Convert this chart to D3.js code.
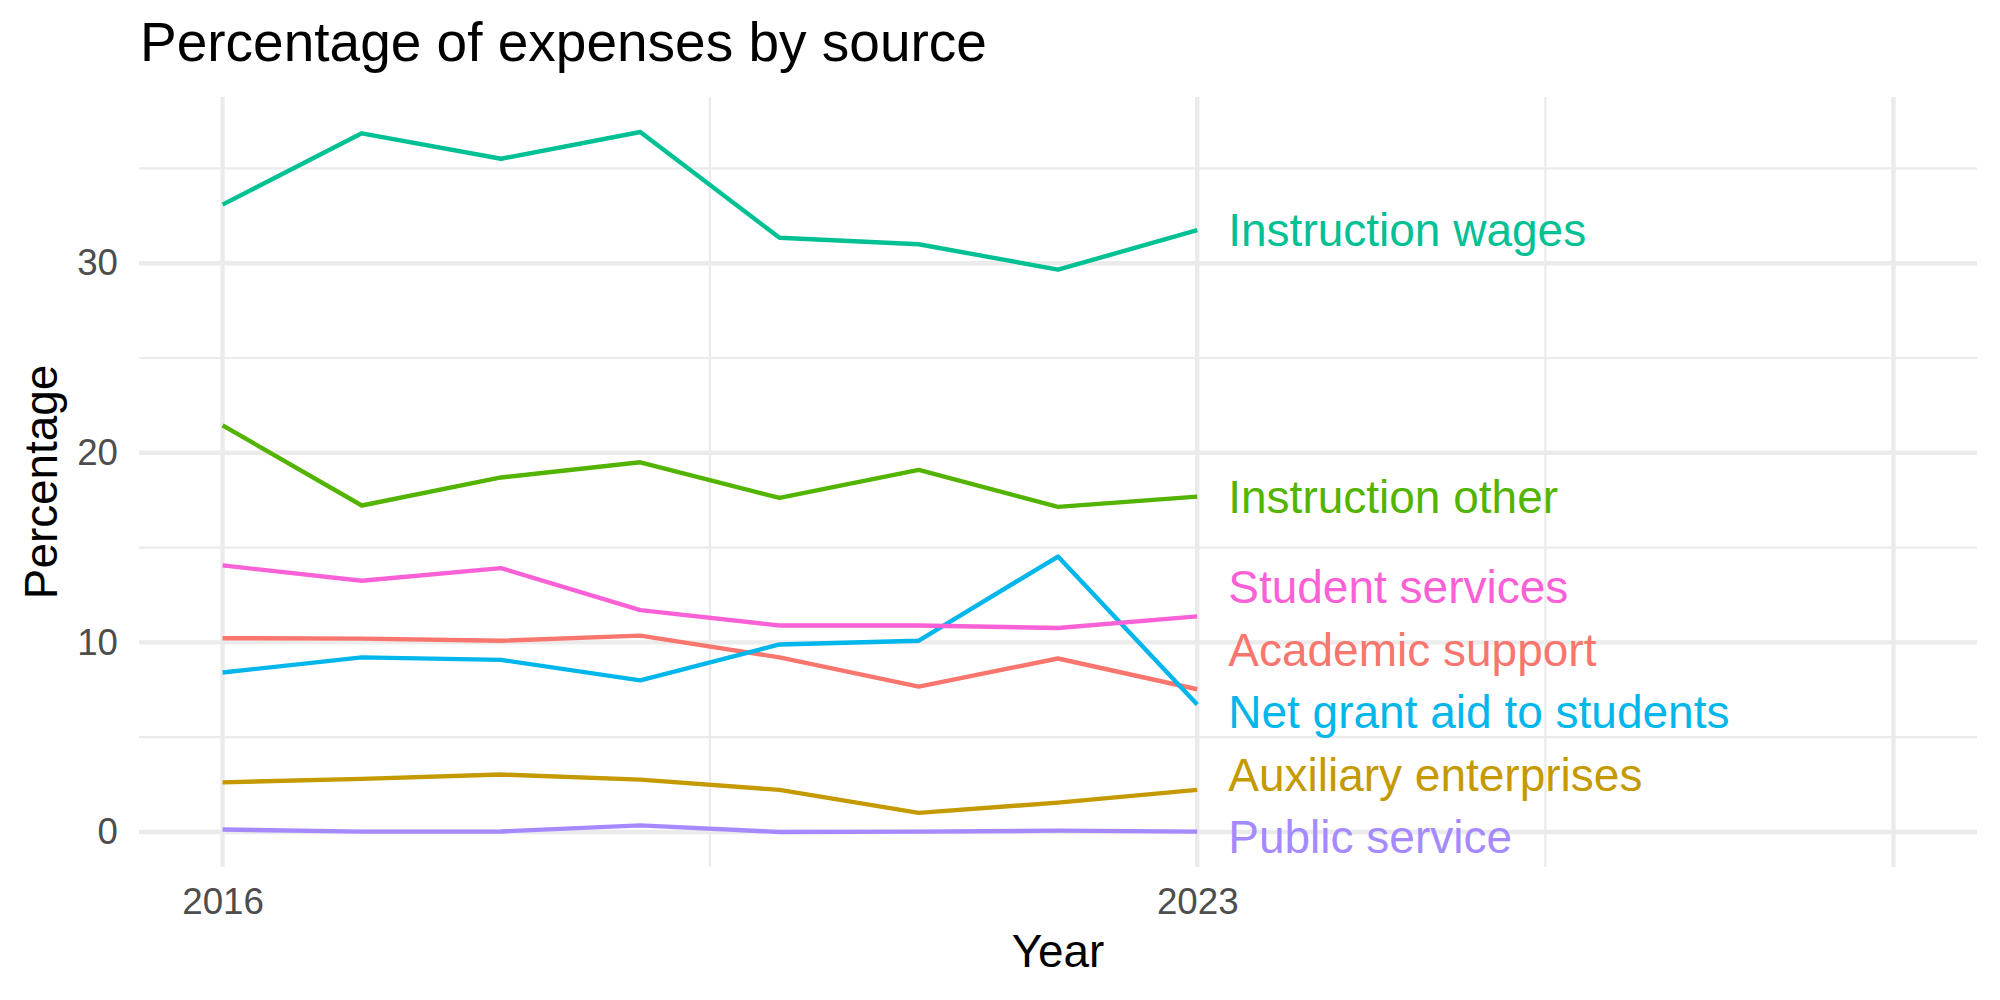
<!DOCTYPE html>
<html>
<head>
<meta charset="utf-8">
<script src="https://cdn.jsdelivr.net/npm/d3@7"></script>
<style>
  body { margin: 0; background: #fff; }
  text { font-family: "Liberation Sans", Arial, sans-serif; }
</style>
</head>
<body>
<div id="chart"></div>
<script>
// data
var years = [2016, 2017, 2018, 2019, 2020, 2021, 2022, 2023]
var academicSupport = [10.22, 10.20, 10.09, 10.36, 9.21, 7.67, 9.15, 7.53]
var auxiliaryEnterprises = [2.62, 2.80, 3.03, 2.76, 2.22, 1.01, 1.55, 2.22]
var instructionOther = [21.45, 17.22, 18.70, 19.50, 17.62, 19.10, 17.15, 17.69]
var instructionWages = [33.09, 36.85, 35.51, 36.92, 31.34, 31.00, 29.66, 31.74]
var netGrantAid = [8.41, 9.21, 9.08, 8.00, 9.89, 10.09, 14.53, 6.72]
var publicService = [0.13, 0.02, 0.03, 0.35, 0.00, 0.02, 0.07, 0.02]
var studentServices = [14.06, 13.25, 13.92, 11.70, 10.89, 10.89, 10.76, 11.37]

var sourceNames = ["Academic support", "Auxiliary enterprises", "Instruction other",
    "Instruction wages", "Net grant aid to students", "Public service", "Student services"]
var sourceValues = [academicSupport, auxiliaryEnterprises, instructionOther,
    instructionWages, netGrantAid, publicService, studentServices]
var xBreaks = [2016, 2023, 2028]
var xLabels = ["2016", "2023", ""]
var xMinor = [2019.5, 2025.5]
var yBreaks = [0, 10, 20, 30]
var yMinor = [5, 15, 25, 35]

var width = 2000
    height = 1000
var margin = {left: 139, right: 23, top: 97, bottom: 133}

var series = sourceNames.map(function(name, i) {
    return {name: name, values: years.map(function(y, j) { return {year: y, value: sourceValues[i][j]} })}
})

// ggplot hue palette
var color = d3.scaleOrdinal()
    .domain(sourceNames)
    .range(["#F8766D", "#C49A00", "#53B400", "#00C094", "#00B6EB", "#A58AFF", "#FB61D7"])

var xMinVal = 2016, xMaxVal = 2028
var xPad = (xMaxVal - xMinVal) * 0.05
var x = d3.scaleLinear()
    .domain([xMinVal - xPad, xMaxVal + xPad])
    .range([margin.left, width - margin.right])

var allVals = d3.merge(sourceValues)
var yLo = d3.min(allVals), yHi = d3.max(allVals)
var yPad = (yHi - yLo) * 0.05
var y = d3.scaleLinear()
    .domain([yLo - yPad, yHi + yPad])
    .range([height - margin.bottom, margin.top])

var svg = d3.select("#chart")
    .append("svg")
    .attr("width", width)
    .attr("height", height)

var grid = svg.append("g")

// minor grid
grid.selectAll(".ymin").data(yMinor).enter().append("line")
    .attr("x1", margin.left).attr("x2", width - margin.right)
    .attr("y1", function(d) { return y(d) }).attr("y2", function(d) { return y(d) })
    .style("stroke", "#EBEBEB").style("stroke-width", 2.2)
grid.selectAll(".xmin").data(xMinor).enter().append("line")
    .attr("y1", margin.top).attr("y2", height - margin.bottom)
    .attr("x1", function(d) { return x(d) }).attr("x2", function(d) { return x(d) })
    .style("stroke", "#EBEBEB").style("stroke-width", 2.2)

// major grid
grid.selectAll(".ymaj").data(yBreaks).enter().append("line")
    .attr("x1", margin.left).attr("x2", width - margin.right)
    .attr("y1", function(d) { return y(d) }).attr("y2", function(d) { return y(d) })
    .style("stroke", "#EBEBEB").style("stroke-width", 4.4)
grid.selectAll(".xmaj").data(xBreaks).enter().append("line")
    .attr("y1", margin.top).attr("y2", height - margin.bottom)
    .attr("x1", function(d) { return x(d) }).attr("x2", function(d) { return x(d) })
    .style("stroke", "#EBEBEB").style("stroke-width", 4.4)

// axes (text only, like theme_minimal)
var yAxis = svg.append("g")
    .attr("transform", "translate(" + margin.left + ",0)")
    .call(d3.axisLeft(y).tickValues(yBreaks).tickSize(0).tickPadding(21))
yAxis.select(".domain").remove()
yAxis.selectAll("text")
    .style("font-size", "36.7px")
    .style("fill", "#4D4D4D")
    .style("font-family", "Liberation Sans, Arial, sans-serif")

var xAxis = svg.append("g")
    .attr("transform", "translate(0," + (height - margin.bottom) + ")")
    .call(d3.axisBottom(x).tickValues(xBreaks).tickSize(0).tickPadding(21)
        .tickFormat(function(d, i) { return xLabels[i] }))
xAxis.select(".domain").remove()
xAxis.selectAll("text")
    .style("font-size", "36.7px")
    .style("fill", "#4D4D4D")
    .style("font-family", "Liberation Sans, Arial, sans-serif")

// lines
var line = d3.line()
    .x(function(d) { return x(d.year) })
    .y(function(d) { return y(d.value) })

svg.append("g").selectAll("path")
    .data(series)
    .enter()
    .append("path")
    .attr("d", function(d) { return line(d.values) })
    .style("fill", "none")
    .style("stroke", function(d) { return color(d.name) })
    .style("stroke-width", 4.4)
    .style("stroke-linejoin", "round")

// end labels, pushed apart so they do not overlap
var gap = 62.5
var maxY = height - margin.bottom - 30
var labels = series.map(function(s) {
    var last = s.values[s.values.length - 1]
    return {name: s.name, year: last.year, pos: y(last.value)}
})
labels.sort(function(a, b) { return a.pos - b.pos })
for (var it = 0; it < 500; it++) {
    for (var i = 1; i < labels.length; i++) {
        var over = gap - (labels[i].pos - labels[i - 1].pos)
        if (over > 0) {
            labels[i].pos += over / 2
            labels[i - 1].pos -= over / 2
        }
    }
    labels.forEach(function(l) { if (l.pos > maxY) l.pos = maxY })
}

svg.append("g").selectAll("text")
    .data(labels)
    .enter()
    .append("text")
    .attr("x", function(d) { return x(d.year) + 31 })
    .attr("y", function(d) { return d.pos })
    .attr("dy", "0.35em")
    .style("font-size", "46px")
    .style("fill", function(d) { return color(d.name) })
    .text(function(d) { return d.name })

// titles
svg.append("text")
    .attr("x", 140)
    .attr("y", 61)
    .style("font-size", "55px")
    .style("fill", "#000")
    .text("Percentage of expenses by source")

svg.append("text")
    .attr("x", (margin.left + width - margin.right) / 2)
    .attr("y", 967)
    .attr("text-anchor", "middle")
    .style("font-size", "45.8px")
    .text("Year")

svg.append("text")
    .attr("transform", "translate(57," + ((margin.top + height - margin.bottom) / 2) + ") rotate(-90)")
    .attr("text-anchor", "middle")
    .style("font-size", "45.8px")
    .text("Percentage")
</script>
</body>
</html>
